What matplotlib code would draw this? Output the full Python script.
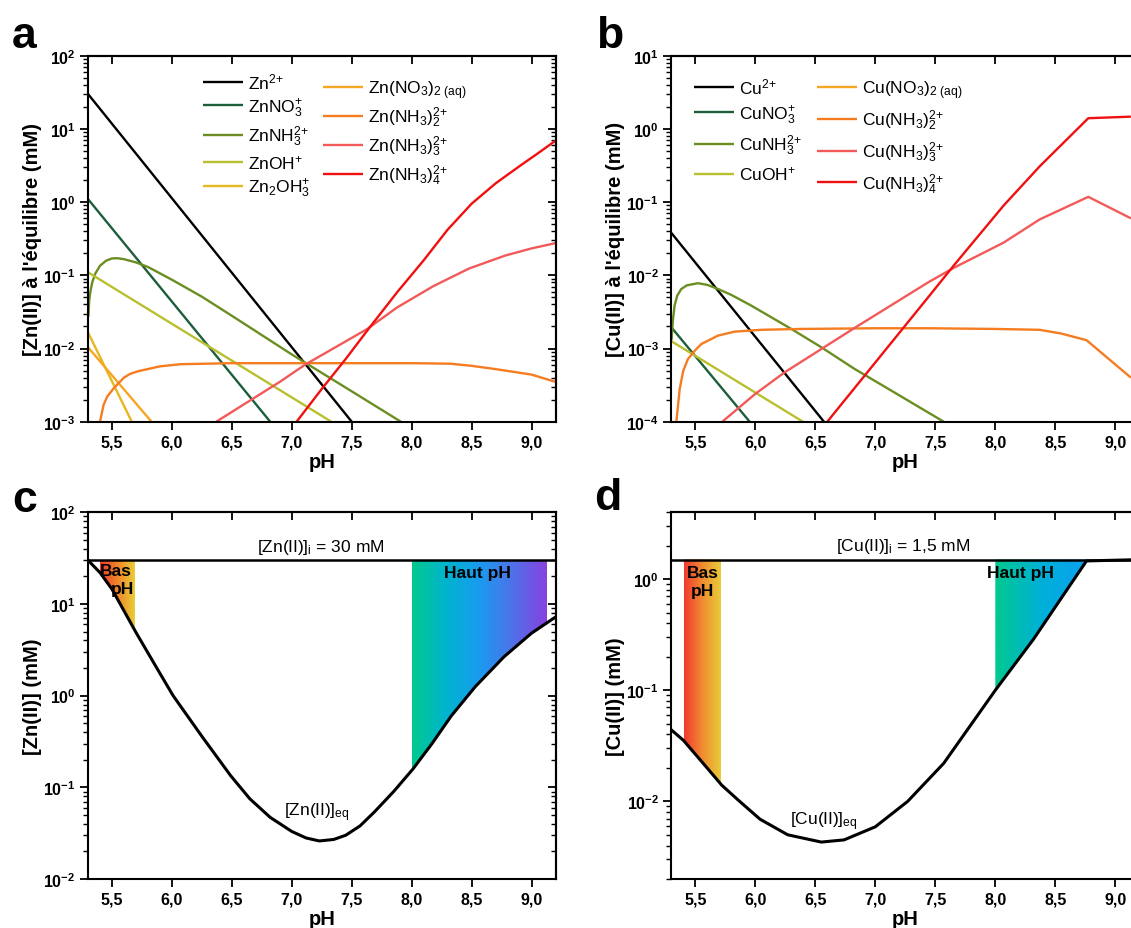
import numpy as np
import matplotlib
matplotlib.use('Agg')
import matplotlib.pyplot as plt
from matplotlib.ticker import FixedLocator, FixedFormatter, LogLocator, NullFormatter, NullLocator
from matplotlib.colors import LinearSegmentedColormap

plt.rcParams['font.family'] = ['Liberation Sans', 'DejaVu Sans']
plt.rcParams['mathtext.fontset'] = 'custom'
plt.rcParams['mathtext.rm'] = 'Liberation Sans'
plt.rcParams['mathtext.it'] = 'Liberation Sans:italic'
plt.rcParams['mathtext.bf'] = 'Liberation Sans:bold'
plt.rcParams['mathtext.default'] = 'regular'

# ---------------- data: panel a (Zn speciation, mM) ----------------
ph_zn2 = [5.3, 7.5]
zn2 = [30, 1e-3]
ph_znno3 = [5.3, 6.82]
znno3 = [1.1, 1e-3]
ph_znnh3 = [5.303, 5.31, 5.32, 5.335, 5.36, 5.4, 5.45, 5.5, 5.55, 5.6, 5.7, 5.8,
            6.0, 6.25, 6.5, 7.0, 7.5, 7.91]
znnh3 = [0.027, 0.045, 0.06, 0.08, 0.105, 0.135, 0.158, 0.17, 0.171, 0.166, 0.15, 0.13,
         0.087, 0.051, 0.028, 0.0083, 0.0026, 0.001]
ph_znoh = [5.3, 7.33]
znoh = [0.11, 1e-3]
ph_zn2oh3 = [5.3, 5.665]
zn2oh3 = [0.0166, 1e-3]
ph_znno32 = [5.3, 5.83]
znno32 = [0.0104, 1e-3]
ph_znnh32 = [5.4, 5.43, 5.46, 5.51, 5.55, 5.6, 5.65, 5.72, 5.79, 5.9, 6.07, 6.5,
             7.0, 7.5, 8.0, 8.32, 8.5, 8.71, 9.0, 9.2]
znnh32 = [0.001, 0.0017, 0.0022, 0.0028, 0.0033, 0.004, 0.0045, 0.0049, 0.0052, 0.0057,
          0.0061, 0.0063, 0.0063, 0.0063, 0.0063, 0.0062, 0.0058, 0.0052, 0.0044, 0.0035]
ph_znnh33 = [6.37, 6.9, 7.11, 7.63, 7.88, 8.18, 8.48, 8.78, 9.0, 9.2]
znnh33 = [0.001, 0.0035, 0.006, 0.0185, 0.0365, 0.071, 0.124, 0.186, 0.233, 0.275]
ph_znnh34 = [7.04, 7.25, 7.45, 7.64, 7.88, 8.1, 8.3, 8.5, 8.7, 8.9, 9.05, 9.2]
znnh34 = [0.001, 0.0028, 0.0072, 0.0185, 0.059, 0.16, 0.42, 0.95, 1.8, 3.1, 4.6, 6.9]

# ---------------- data: panel b (Cu speciation, mM) ----------------
ph_cu2 = [5.3, 6.572]
cu2 = [0.038, 1e-4]
ph_cuno3 = [5.3, 5.953]
cuno3 = [0.00195, 1e-4]
ph_cunh3 = [5.302, 5.314, 5.328, 5.35, 5.383, 5.43, 5.522, 5.6, 5.689, 5.8, 5.967,
            6.3, 6.55, 6.828, 7.161, 7.439, 7.57]
cunh3 = [0.0013, 0.0025, 0.0039, 0.0053, 0.0065, 0.0073, 0.0078, 0.0074, 0.0065, 0.0054,
         0.00385, 0.00185, 0.00104, 5.25e-4, 2.5e-4, 1.34e-4, 1e-4]
ph_cuoh = [5.3, 6.397]
cuoh = [0.00126, 1e-4]
ph_cuno32 = []
cuno32 = []
ph_cunh32 = [5.342, 5.356, 5.37, 5.4, 5.439, 5.5, 5.55, 5.689, 5.828, 6.05, 6.38, 7.0,
             7.44, 8.0, 8.37, 8.55, 8.76, 9.13]
cunh32 = [1e-4, 1.66e-4, 2.8e-4, 5e-4, 7.2e-4, 9.5e-4, 0.00115, 0.0015, 0.0017, 0.0018,
          0.00185, 0.00189, 0.00189, 0.00185, 0.0018, 0.0016, 0.0013, 0.0004]
ph_cunh33 = [5.725, 6.0, 6.244, 6.814, 7.44, 7.66, 8.07, 8.37, 8.775, 9.13]
cunh33 = [1e-4, 2.4e-4, 4.72e-4, 1.85e-3, 8.0e-3, 0.0128, 0.028, 0.058, 0.118, 0.060]
ph_cunh34 = [6.6, 7.44, 7.66, 8.07, 8.37, 8.775, 9.13]
cunh34 = [1e-4, 0.005, 0.014, 0.09, 0.308, 1.40, 1.47]

# ---------------- data: panels c, d (total dissolved metal, mM) ----------------
ph_ztot = [5.3, 5.4, 5.5, 5.7, 5.9, 6.01, 6.25, 6.49, 6.65, 6.82, 7.0, 7.12, 7.23,
           7.35, 7.45, 7.57, 7.69, 7.85, 8.01, 8.17, 8.33, 8.53, 8.77, 9.0, 9.2]
zn_tot = [30, 22, 14.5, 4.9, 1.75, 1.0, 0.36, 0.134, 0.075, 0.047, 0.033, 0.028, 0.026,
          0.027, 0.030, 0.038, 0.054, 0.09, 0.158, 0.3, 0.6, 1.25, 2.65, 4.8, 7.2]
ph_ctot = [5.3, 5.4, 5.55, 5.72, 5.856, 6.04, 6.27, 6.55, 6.74, 7.0, 7.27, 7.57, 8.0,
           8.32, 8.76, 9.2]
cu_tot = [0.044, 0.0355, 0.023, 0.014, 0.0103, 0.0069, 0.005, 0.0043, 0.0045, 0.0059,
          0.01, 0.022, 0.1, 0.29, 1.46, 1.5]
zn_init = 30
cu_init = 1.5
bas_c = (5.4, 5.7)
haut_c = (8.0, 9.13)
bas_d = (5.405, 5.72)
haut_d = (8.0, 8.76)

xticks = [5.5, 6.0, 6.5, 7.0, 7.5, 8.0, 8.5, 9.0]
xtick_labels = ['5,5', '6,0', '6,5', '7,0', '7,5', '8,0', '8,5', '9,0']

zn_labels = ['Zn$^{2{+}}$', 'ZnNO$_3^{+}$', 'ZnNH$_3^{2{+}}$', 'ZnOH$^{+}$', 'Zn$_2$OH$_3^{+}$',
             'Zn(NO$_3$)$_{2\\ \\mathrm{(aq)}}$', 'Zn(NH$_3$)$_2^{2{+}}$',
             'Zn(NH$_3$)$_3^{2{+}}$', 'Zn(NH$_3$)$_4^{2{+}}$']
cu_labels = ['Cu$^{2{+}}$', 'CuNO$_3^{+}$', 'CuNH$_3^{2{+}}$', 'CuOH$^{+}$',
             'Cu(NO$_3$)$_{2\\ \\mathrm{(aq)}}$', 'Cu(NH$_3$)$_2^{2{+}}$',
             'Cu(NH$_3$)$_3^{2{+}}$', 'Cu(NH$_3$)$_4^{2{+}}$']

C_BLACK = '#000000'
C_NO3 = '#1d5e3b'
C_NH3 = '#6b8e23'
C_OH = '#b8c030'
C_2OH3 = '#e6b820'
C_NO32 = '#f5a623'
C_NH32 = '#f57c20'
C_NH33 = '#f25a5a'
C_NH34 = '#f01010'

W, H = 1131, 929
fig = plt.figure(figsize=(W / 100, H / 100), dpi=100)

def axes_px(l, t, r, b):
    return fig.add_axes([l / W, 1 - b / H, (r - l) / W, (b - t) / H])

TICKFS = 11.5
LABFS = 14.5
LEGFS = 12.5

def style_axes(ax, ylo, yhi, dec_labels):
    ax.set_yscale('log')
    ax.set_xlim(5.3, 9.2)
    ax.set_ylim(ylo, yhi)
    for s in ax.spines.values():
        s.set_linewidth(1.5)
    ax.xaxis.set_major_locator(FixedLocator(xticks))
    ax.xaxis.set_major_formatter(FixedFormatter(xtick_labels))
    ax.xaxis.set_minor_locator(NullLocator())
    decs = [10.0 ** e for e in dec_labels]
    ax.yaxis.set_major_locator(FixedLocator(decs))
    ax.yaxis.set_major_formatter(FixedFormatter(['$\\mathbf{10^{%d}}$' % e for e in dec_labels]))
    ax.yaxis.set_minor_locator(LogLocator(base=10, subs=np.arange(2, 10), numticks=20))
    ax.yaxis.set_minor_formatter(NullFormatter())
    ax.tick_params(axis='both', which='major', direction='out', length=6, width=1.3,
                   labelsize=TICKFS, pad=3)
    ax.tick_params(axis='y', which='minor', direction='out', length=3.5, width=1.0)
    for lab in ax.get_xticklabels():
        lab.set_fontweight('bold')
    # mirrored ticks pointing inward on top and right
    top = ax.secondary_xaxis('top')
    top.xaxis.set_major_locator(FixedLocator(xticks))
    top.xaxis.set_major_formatter(NullFormatter())
    top.tick_params(direction='in', length=6, width=1.3)
    top.spines['top'].set_linewidth(1.5)
    right = ax.secondary_yaxis('right')
    right.set_yscale('log')
    right.yaxis.set_major_locator(FixedLocator(decs))
    right.yaxis.set_minor_locator(LogLocator(base=10, subs=np.arange(2, 10), numticks=20))
    right.yaxis.set_major_formatter(NullFormatter())
    right.yaxis.set_minor_formatter(NullFormatter())
    right.tick_params(which='major', direction='in', length=6, width=1.3)
    right.tick_params(which='minor', direction='in', length=3.5, width=1.0)
    right.spines['right'].set_linewidth(1.5)
    ax.set_xlabel('pH', fontsize=LABFS, fontweight='bold', labelpad=2)

def gradient_fill(ax, x0, x1, xs, ys, ytop, colors):
    xx = np.linspace(x0, x1, 300)
    yy = 10 ** np.interp(xx, xs, np.log10(ys))
    yy = np.minimum(yy, ytop)
    poly = ax.fill_between(xx, yy, ytop, facecolor='none', edgecolor='none', lw=0)
    cmap = LinearSegmentedColormap.from_list('g', colors)
    grad = np.linspace(0, 1, 256).reshape(1, -1)
    ylo, yhi = ax.get_ylim()
    im = ax.imshow(grad, extent=[x0, x1, ylo, yhi], aspect='auto', cmap=cmap,
                   origin='lower', zorder=1, interpolation='bilinear')
    im.set_clip_path(poly.get_paths()[0], transform=ax.transData)

def frac(box, x, y):
    l, t, r, b = box
    return ((x - l) / (r - l), (b - y) / (b - t))

leg_kw = dict(frameon=False, fontsize=LEGFS, handlelength=2.3, handletextpad=0.3,
              borderpad=0, borderaxespad=0, loc='upper left')

# ---------------- panel a ----------------
box_a = (88, 56.7, 555.5, 422.7)
ax_a = axes_px(*box_a)
style_axes(ax_a, 1e-3, 1e2, [-3, -2, -1, 0, 1, 2])
series_a = [(ph_zn2, zn2, C_BLACK), (ph_znno3, znno3, C_NO3), (ph_znnh3, znnh3, C_NH3),
            (ph_znoh, znoh, C_OH), (ph_zn2oh3, zn2oh3, C_2OH3), (ph_znno32, znno32, C_NO32),
            (ph_znnh32, znnh32, C_NH32), (ph_znnh33, znnh33, C_NH33), (ph_znnh34, znnh34, C_NH34)]
lines_a = []
for (xs, ys, c), lab in zip(series_a, zn_labels):
    ln, = ax_a.plot(xs, ys, color=c, lw=1.7, label=lab, solid_capstyle='butt')
    lines_a.append(ln)
ax_a.set_xlim(5.3, 9.2)
ax_a.set_ylim(1e-3, 1e2)
ax_a.set_ylabel("[Zn(II)] à l'équilibre (mM)", fontsize=LABFS, fontweight='bold', labelpad=1)
leg1 = ax_a.legend(handles=lines_a[:5], bbox_to_anchor=frac(box_a, 203, 72),
                   labelspacing=0.3, **leg_kw)
ax_a.add_artist(leg1)
ax_a.legend(handles=lines_a[5:], bbox_to_anchor=frac(box_a, 323, 79),
            labelspacing=0.25, **leg_kw)

# ---------------- panel b ----------------
box_b = (671.3, 56.7, 1139.3, 422.7)
ax_b = axes_px(*box_b)
style_axes(ax_b, 1e-4, 1e1, [-4, -3, -2, -1, 0, 1])
series_b = [(ph_cu2, cu2, C_BLACK), (ph_cuno3, cuno3, C_NO3), (ph_cunh3, cunh3, C_NH3),
            (ph_cuoh, cuoh, C_OH), (ph_cuno32, cuno32, C_NO32),
            (ph_cunh32, cunh32, C_NH32), (ph_cunh33, cunh33, C_NH33), (ph_cunh34, cunh34, C_NH34)]
lines_b = []
for (xs, ys, c), lab in zip(series_b, cu_labels):
    ln, = ax_b.plot(xs, ys, color=c, lw=1.7, label=lab, solid_capstyle='butt')
    lines_b.append(ln)
ax_b.set_xlim(5.3, 9.2)
ax_b.set_ylim(1e-4, 1e1)
ax_b.set_ylabel("[Cu(II)] à l'équilibre (mM)", fontsize=LABFS, fontweight='bold', labelpad=1)
ax_b.legend(handles=lines_b, bbox_to_anchor=frac(box_b, 693.6, 77), ncol=2,
            labelspacing=0.42, columnspacing=0.9, **leg_kw)

# ---------------- panel c ----------------
box_c = (88, 513.3, 555.5, 880)
ax_c = axes_px(*box_c)
style_axes(ax_c, 1e-2, 1e2, [-2, -1, 0, 1, 2])
gradient_fill(ax_c, bas_c[0], bas_c[1], ph_ztot, zn_tot, zn_init,
              ['#ee3c2e', '#f08a2a', '#e8d43a'])
gradient_fill(ax_c, haut_c[0], haut_c[1], ph_ztot, zn_tot, zn_init,
              ['#00c98f', '#00b4cf', '#1a9af0', '#5070e8', '#8a40e0'])
ax_c.plot(ph_ztot, zn_tot, color='black', lw=2.2, zorder=3)
ax_c.axhline(zn_init, color='black', lw=1.8, zorder=3)
ax_c.set_xlim(5.3, 9.2)
ax_c.set_ylim(1e-2, 1e2)
ax_c.set_ylabel('[Zn(II)] (mM)', fontsize=LABFS, fontweight='bold', labelpad=1)
ax_c.text(7.24, 42.5, '[Zn(II)]$_\\mathrm{i}$ = 30 mM', fontsize=12.5, ha='center', va='center')
ax_c.text(7.21, 0.054, '[Zn(II)]$_\\mathrm{eq}$', fontsize=12.5, ha='center', va='center')
ax_c.text(5.53, 23, 'Bas', fontsize=12.5, fontweight='bold', ha='center', va='center', zorder=4)
ax_c.text(5.59, 14.6, 'pH', fontsize=12.5, fontweight='bold', ha='center', va='center', zorder=4)
ax_c.text(8.55, 22, 'Haut pH', fontsize=12.5, fontweight='bold', ha='center', va='center', zorder=4)

# ---------------- panel d ----------------
box_d = (671.3, 513.3, 1139.3, 880)
ax_d = axes_px(*box_d)
style_axes(ax_d, 2e-3, 4.0, [-2, -1, 0])
gradient_fill(ax_d, bas_d[0], bas_d[1], ph_ctot, cu_tot, cu_init,
              ['#f03c30', '#f09030', '#e8d03a'])
gradient_fill(ax_d, haut_d[0], haut_d[1], ph_ctot, cu_tot, cu_init,
              ['#00c98f', '#00b0d8', '#0aa0f0'])
ax_d.plot(ph_ctot, cu_tot, color='black', lw=2.2, zorder=3)
ax_d.axhline(cu_init, color='black', lw=1.8, zorder=3)
ax_d.set_xlim(5.3, 9.2)
ax_d.set_ylim(2e-3, 4.0)
ax_d.set_ylabel('[Cu(II)] (mM)', fontsize=LABFS, fontweight='bold', labelpad=1)
ax_d.text(7.23, 2.02, '[Cu(II)]$_\\mathrm{i}$ = 1,5 mM', fontsize=12.5, ha='center', va='center')
ax_d.text(6.57, 0.0067, '[Cu(II)]$_\\mathrm{eq}$', fontsize=12.5, ha='center', va='center')
ax_d.text(5.56, 1.15, 'Bas', fontsize=12.5, fontweight='bold', ha='center', va='center', zorder=4)
ax_d.text(5.56, 0.79, 'pH', fontsize=12.5, fontweight='bold', ha='center', va='center', zorder=4)
ax_d.text(8.21, 1.16, 'Haut pH', fontsize=12.5, fontweight='bold', ha='center', va='center', zorder=4)

# panel letters
for letter, x, y in [('a', 12, 48), ('b', 596, 48), ('c', 12, 512), ('d', 594, 510)]:
    fig.text(x / W, 1 - y / H, letter, fontsize=32, fontweight='bold', ha='left', va='baseline')

fig.savefig('out.png', dpi=100)
